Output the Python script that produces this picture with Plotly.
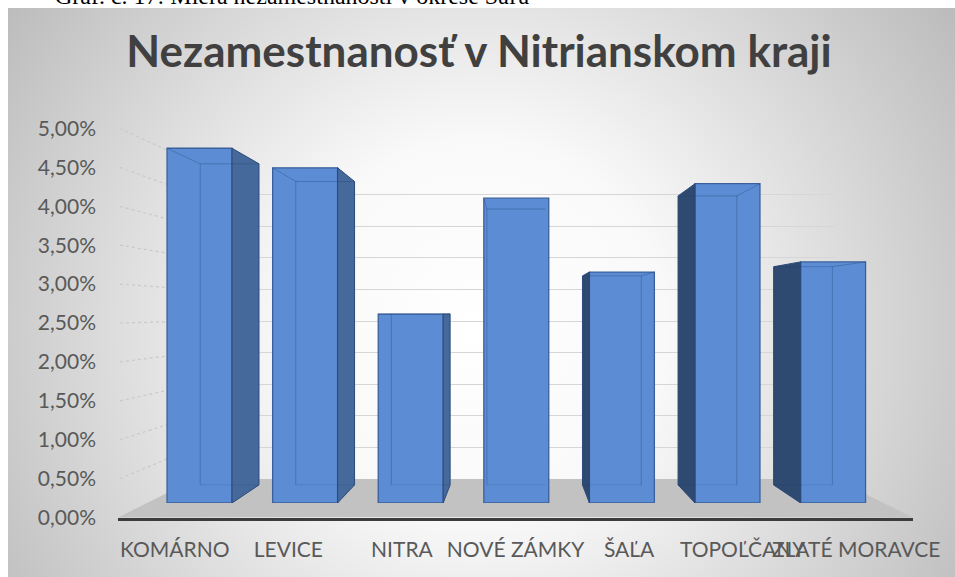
import base64
import plotly.graph_objects as go

W, H = 955, 577

# ---------------- data ----------------
categories = ["KOMÁRNO", "LEVICE", "NITRA", "NOVÉ ZÁMKY", "ŠAĽA", "TOPOĽČANY", "ZLATÉ MORAVCE"]
unemployment = [0.0490, 0.0463, 0.0261, 0.0421, 0.0319, 0.0441, 0.0333]
y_ticks = [0.0, 0.005, 0.01, 0.015, 0.02, 0.025, 0.03, 0.035, 0.04, 0.045, 0.05]
title_text = "Nezamestnanosť v Nitrianskom kraji"
caption_text = "Graf. č. 17: Miera nezamestnanosti v okrese Šaľa"


def fx(p):
    return p / W


def fy(p):
    return 1 - p / H


# perspective geometry (pixels)
FRONT_L, FRONT_R, FRONT_Y0, FRONT_Y5 = 118, 913, 517.5, 128.5   # front edge / value labels
BACK_L, BACK_R, BACK_Y0, BACK_Y5 = 195, 835, 479, 163           # back wall
BAR_L, BAR_R, BAR_Y0, BAR_Y5 = 146.7, 885.9, 503, 141           # bar front faces
DEPTH_K = 0.905          # scale of bar back face relative to its front face
DEPTH_SHIFT = 0.0025     # back-face base lift in bar-axis units
BAR_W = 0.615

back_ratio = (BACK_Y0 - BACK_Y5) / (FRONT_Y0 - FRONT_Y5)
floor_back = (FRONT_Y0 - BACK_Y0) / (FRONT_Y0 - FRONT_Y5) * 0.05

# gradient background as an inline svg image
svg = (
    '<svg xmlns="http://www.w3.org/2000/svg" width="947" height="569" viewBox="0 0 947 569" '
    'preserveAspectRatio="none"><defs><radialGradient id="g" gradientUnits="userSpaceOnUse" '
    'cx="470" cy="320" r="570"><stop offset="0" stop-color="#ffffff"/>'
    '<stop offset="0.33" stop-color="#f9f9f9"/><stop offset="1" stop-color="#bcbcbc"/>'
    '</radialGradient></defs><rect width="947" height="569" fill="url(#g)"/></svg>'
)
svg_uri = "data:image/svg+xml;base64," + base64.b64encode(svg.encode()).decode()

fig = go.Figure()

# back wall subplot (x, y) - gridlines only
fig.add_trace(go.Scatter(x=[], y=[], xaxis="x", yaxis="y", showlegend=False, hoverinfo="skip"))
# front labels subplot (x2, y2)
fig.add_trace(go.Scatter(x=[], y=[], xaxis="x2", yaxis="y2", showlegend=False, hoverinfo="skip"))
# bars (x3, y3)
fig.add_trace(go.Bar(
    x=categories, y=unemployment, xaxis="x3", yaxis="y3", width=BAR_W,
    marker=dict(color="#5c8dd4", line=dict(color="#3a609b", width=1.3)),
    showlegend=False, hovertemplate="%{x}: %{y:.2%}<extra></extra>",
))

shapes = []
# floor
shapes.append(dict(
    type="path", xref="paper", yref="y2", layer="below",
    path=f"M {fx(FRONT_L)},0 L {fx(FRONT_R)},0 L {fx(BACK_R)},{floor_back} L {fx(BACK_L)},{floor_back} Z",
    fillcolor="#c2c2c2", line=dict(width=0),
))
# side-wall dotted lines from labels to the back wall
for t in y_ticks[1:]:
    shapes.append(dict(
        type="line", xref="paper", yref="y2", layer="below",
        x0=fx(FRONT_L + 2), y0=t, x1=fx(BACK_L), y1=floor_back + t * back_ratio,
        line=dict(color="#c9c9c9", width=1.2, dash="dot"),
    ))

# side faces and see-through back edges of the bars
c = (len(categories) - 1) / 2
for i, v in enumerate(unemployment):
    left, right = i - BAR_W / 2, i + BAR_W / 2
    lb, rb = c + (left - c) * DEPTH_K, c + (right - c) * DEPTH_K
    vb = DEPTH_SHIFT + DEPTH_K * v
    if i < c:
        e, eb, col, far, farb = right, rb, "#46699b", left, lb
    elif i > c:
        e, eb, col, far, farb = left, lb, "#2f4a70", right, rb
    else:
        e = None
        far, farb = left, lb
    if e is not None:
        shapes.append(dict(
            type="path", xref="x3", yref="y3", layer="above",
            path=f"M {e},0 L {e},{v} L {eb},{vb} L {eb},{DEPTH_SHIFT} Z",
            fillcolor=col, line=dict(color="#2c4a78", width=1),
        ))
    edge = dict(color="rgba(35,65,115,0.35)", width=1)
    faint = dict(color="rgba(35,65,115,0.18)", width=1)
    shapes.append(dict(type="line", xref="x3", yref="y3", layer="above",
                       x0=lb, y0=vb, x1=rb, y1=vb, line=edge))
    shapes.append(dict(type="line", xref="x3", yref="y3", layer="above",
                       x0=farb, y0=DEPTH_SHIFT, x1=farb, y1=vb, line=edge))
    shapes.append(dict(type="line", xref="x3", yref="y3", layer="above",
                       x0=far, y0=v, x1=farb, y1=vb, line=edge))
    shapes.append(dict(type="line", xref="x3", yref="y3", layer="above",
                       x0=lb, y0=DEPTH_SHIFT, x1=rb, y1=DEPTH_SHIFT, line=faint))

label_font = dict(family="Lato, 'Open Sans', sans-serif", size=21, color="#595959")

fig.update_layout(
    template="none",
    width=W, height=H,
    margin=dict(l=0, r=0, t=0, b=0, pad=0, autoexpand=False),
    paper_bgcolor="white",
    plot_bgcolor="rgba(0,0,0,0)",
    separators=", ",
    showlegend=False,
    images=[dict(
        source=svg_uri, xref="paper", yref="paper", x=fx(8), y=fy(8),
        sizex=947 / W, sizey=569 / H, xanchor="left", yanchor="top",
        sizing="stretch", layer="below",
    )],
    title=dict(
        text=f"<b>{title_text}</b>", x=fx(479), y=fy(52), xanchor="center", yanchor="middle",
        xref="paper", yref="paper", automargin=False,
        font=dict(family="Lato, 'Open Sans', sans-serif", size=44, color="#404040"),
    ),
    annotations=[dict(
        text=caption_text, xref="paper", yref="paper", x=fx(53), y=fy(11),
        xanchor="left", yanchor="bottom", showarrow=False,
        font=dict(family="'Liberation Serif', 'Times New Roman', serif", size=24, color="#000000"),
    )],
    xaxis=dict(domain=[fx(BACK_L), fx(BACK_R)], range=[0, 1], anchor="y", automargin=False,
               showgrid=False, zeroline=False, showticklabels=False, ticks="", showline=False),
    yaxis=dict(domain=[fy(BACK_Y0), fy(BACK_Y5)], range=[0, 0.05], anchor="x", automargin=False,
               tickvals=y_ticks, showgrid=True, gridcolor="#d6d6d6", gridwidth=1.4,
               zeroline=False, showticklabels=False, ticks="", showline=False),
    xaxis2=dict(domain=[fx(FRONT_L), fx(FRONT_R)], range=[-0.5, 6.5], anchor="y2", automargin=False,
                tickvals=list(range(len(categories))), ticktext=categories, tickangle=0,
                showgrid=False, zeroline=False, ticks="", showline=True,
                linecolor="#3c3c3c", linewidth=2.5, tickfont=label_font, ticklabelstandoff=12),
    yaxis2=dict(domain=[fy(FRONT_Y0), fy(FRONT_Y5)], range=[0, 0.05], anchor="x2", automargin=False,
                tickvals=y_ticks, tickformat=".2%", showgrid=False, zeroline=False,
                ticks="", showline=False, tickfont=label_font, ticklabelstandoff=21),
    xaxis3=dict(domain=[fx(BAR_L), fx(BAR_R)], range=[-0.5, 6.5], anchor="y3", automargin=False,
                type="category", categoryorder="array", categoryarray=categories,
                visible=False),
    yaxis3=dict(domain=[fy(BAR_Y0), fy(BAR_Y5)], range=[0, 0.05], anchor="x3", automargin=False,
                visible=False),
    shapes=shapes,
)

fig.write_html(
    "out.html",
    config={"displayModeBar": False},
    post_script="document.body.style.margin='0';document.body.style.overflow='hidden';",
)
